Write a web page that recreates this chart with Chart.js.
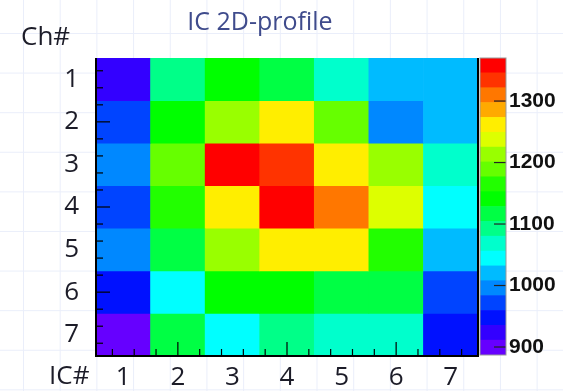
<!DOCTYPE html>
<html>
<head>
<meta charset="utf-8">
<script src="https://cdn.jsdelivr.net/npm/chart.js@4/dist/chart.umd.min.js"></script>
<style>
  body { margin: 0; background: #fff; }
  #wrap {
    position: relative;
    width: 563px;
    height: 391px;
    background-color: #fff;
    background-image:
      linear-gradient(to right, #eaeefa 1px, transparent 1px),
      linear-gradient(to bottom, #eaeefa 1px, transparent 1px);
    background-size: 36.7px 39.6px;
    background-position: 23px 33px;
  }
  canvas { position: absolute; left: 0; top: 0; }
</style>
</head>
<body>
<div id="wrap">
  <canvas id="profileChart" width="563" height="391"></canvas>
  <canvas id="paletteChart" width="563" height="391"></canvas>
</div>
<script>
// IC number (columns) and channel number (rows)
const icLabels = ["1", "2", "3", "4", "5", "6", "7"];
const chLabels = [1, 2, 3, 4, 5, 6, 7];

// one row per channel, one value per IC
const ch1 = [921, 1094, 1140, 1118, 1070, 1022, 1018];
const ch2 = [974, 1138, 1210, 1262, 1188, 998, 1025];
const ch3 = [995, 1186, 1362, 1335, 1258, 1215, 1066];
const ch4 = [970, 1163, 1264, 1368, 1312, 1240, 1046];
const ch5 = [997, 1114, 1212, 1259, 1263, 1167, 1019];
const ch6 = [948, 1043, 1143, 1139, 1117, 1113, 973];
const ch7 = [888, 1115, 1045, 1090, 1070, 1066, 945];
const profile = [ch1, ch2, ch3, ch4, ch5, ch6, ch7];

// colour scale
const zMin = 887;
const zMax = 1370;
const palette = [
  "#6600ff", "#3300ff", "#0011ff", "#0044ff", "#0088ff",
  "#00bbff", "#00ffff", "#00ffcc", "#00ff88", "#00ff44",
  "#00ff00", "#22ff00", "#66ff00", "#99ff00", "#ddff00",
  "#ffee00", "#ffaa00", "#ff7700", "#ff3300", "#ff0000",
];
const paletteTicks = [900, 1000, 1100, 1200, 1300];

const bandWidth = (zMax - zMin) / palette.length;

function colorFor(v) {
  let i = Math.floor((v - zMin) / bandWidth);
  i = Math.max(0, Math.min(palette.length - 1, i));
  return palette[i];
}

const labelFont = { family: "Open Sans", size: 26 };
const labelColor = "#1c1c28";

// ROOT-like frame with ticks on the inside, plus the loose labels
const frame = {
  id: "frame",
  afterDatasetsDraw(chart) {
    const { ctx, chartArea: a, scales } = chart;
    ctx.save();
    ctx.strokeStyle = "#000";
    ctx.lineWidth = 1.2;
    for (let k = 2; k <= 18; k++) {
      const v = k * 0.4;
      if (v > 7.5) break;
      const major = k % 5 === 0;
      const len = major ? 14 : 7;
      const py = scales.y.getPixelForValue(v);
      ctx.beginPath();
      ctx.moveTo(a.left, py);
      ctx.lineTo(a.left + len, py);
      ctx.stroke();
      const px = scales.x.getPixelForValue(v - 1);
      ctx.beginPath();
      ctx.moveTo(px, a.bottom);
      ctx.lineTo(px, a.bottom - len);
      ctx.stroke();
    }
    ctx.lineWidth = 2;
    ctx.beginPath();
    ctx.moveTo(a.left, a.top);
    ctx.lineTo(a.left, a.bottom);
    ctx.lineTo(a.right, a.bottom);
    ctx.lineTo(a.right, a.top);
    ctx.stroke();

    ctx.fillStyle = "#3f4b8c";
    ctx.font = "25px 'Open Sans'";
    ctx.textAlign = "center";
    ctx.textBaseline = "middle";
    ctx.fillText("IC 2D-profile", 260, 23);

    ctx.fillStyle = labelColor;
    ctx.font = "26px 'Open Sans'";
    ctx.textAlign = "left";
    ctx.fillText("Ch#", 21, 38);
    ctx.fillText("IC#", 49, 377);
    ctx.restore();
  },
};

const datasets = profile.map((row, i) => ({
  label: "Ch " + chLabels[i],
  data: row.map(() => [chLabels[i] - 0.5, chLabels[i] + 0.5]),
  backgroundColor: row.map(colorFor),
  borderWidth: 0,
  grouped: false,
  barPercentage: 1,
  categoryPercentage: 1,
}));

new Chart(document.getElementById("profileChart"), {
  type: "bar",
  data: { labels: icLabels, datasets: datasets },
  options: {
    responsive: false,
    animation: false,
    layout: { padding: { left: 0, right: 85, top: 58, bottom: 0 } },
    plugins: {
      legend: { display: false },
      tooltip: { enabled: false },
    },
    scales: {
      x: {
        grid: { display: false, drawTicks: false },
        border: { display: false },
        ticks: { padding: 6, font: labelFont, color: labelColor },
        afterFit: (s) => { s.height = 35; },
      },
      y: {
        type: "linear",
        min: 0.5,
        max: 7.5,
        reverse: true,
        grid: { display: false, drawTicks: false },
        border: { display: false },
        afterBuildTicks: (s) => { s.ticks = chLabels.map((v) => ({ value: v })); },
        ticks: { padding: 17, font: labelFont, color: labelColor },
        afterFit: (s) => { s.width = 96; },
      },
    },
  },
  plugins: [frame],
});

// colour bar
const barFrame = {
  id: "barFrame",
  afterDatasetsDraw(chart) {
    const { ctx, chartArea: a, scales } = chart;
    ctx.save();
    ctx.strokeStyle = "#222";
    ctx.lineWidth = 1.2;
    paletteTicks.forEach((v) => {
      const py = scales.y.getPixelForValue(v);
      ctx.beginPath();
      ctx.moveTo(a.right, py);
      ctx.lineTo(a.right - 12, py);
      ctx.stroke();
    });
    ctx.strokeStyle = "#999";
    ctx.lineWidth = 1;
    ctx.strokeRect(a.left, a.top, a.right - a.left, a.bottom - a.top);
    ctx.restore();
  },
};

new Chart(document.getElementById("paletteChart"), {
  type: "bar",
  data: {
    labels: ["z"],
    datasets: palette.map((c, i) => ({
      data: [[zMin + i * bandWidth, zMin + (i + 1) * bandWidth]],
      backgroundColor: c,
      borderWidth: 0,
      grouped: false,
      barPercentage: 1,
      categoryPercentage: 1,
    })),
  },
  options: {
    responsive: false,
    animation: false,
    layout: { padding: { left: 480, right: 0, top: 58, bottom: 36 } },
    plugins: {
      legend: { display: false },
      tooltip: { enabled: false },
    },
    scales: {
      x: { display: false },
      y: {
        position: "right",
        min: zMin,
        max: zMax,
        grid: { display: false, drawTicks: false },
        border: { display: false },
        afterBuildTicks: (s) => { s.ticks = paletteTicks.map((v) => ({ value: v })); },
        ticks: {
          padding: 3,
          font: { family: "Liberation Sans", size: 21, weight: "bold" },
          color: "#111",
          callback: (v) => String(v),
        },
        afterFit: (s) => { s.width = 57; },
      },
    },
  },
  plugins: [barFrame],
});
</script>
</body>
</html>
